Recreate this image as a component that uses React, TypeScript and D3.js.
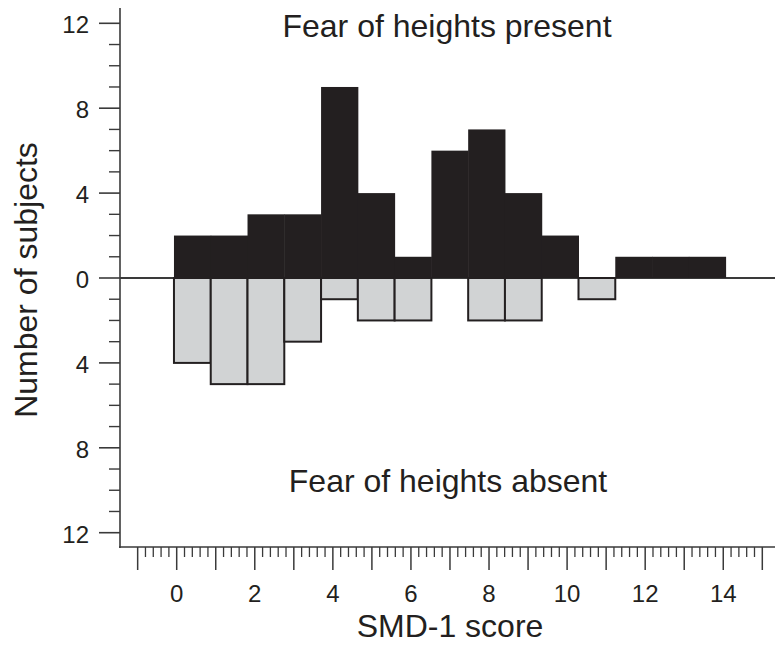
import React from "react";
import * as d3 from "d3";

const presentCounts = [2, 2, 3, 3, 9, 4, 1, 6, 7, 4, 2, 0, 1, 1, 1];
const absentCounts = [4, 5, 5, 3, 1, 2, 2, 0, 2, 2, 0, 1, 0, 0, 0];
const binStart = -0.07;
const binWidth = 0.942;
const xTickLabels = [0, 2, 4, 6, 8, 10, 12, 14];
const yTickLabels = [-12, -8, -4, 0, 4, 8, 12];
const titleTop = "Fear of heights present";
const titleBottom = "Fear of heights absent";
const xTitle = "SMD-1 score";
const yTitle = "Number of subjects";

const W = 775;
const H = 652;
const FONT = "'Liberation Sans', Arial, Helvetica, sans-serif";
const INK = "#231f20";
const AXIS = "#3a3a3a";
const GRAY = "#d1d3d4";

export default function App() {
  const x = d3.scaleLinear().domain([0, 15]).range([176.7, 762.3]);
  const y = d3.scaleLinear().domain([-12, 12]).range([532.7, 23.3]);
  const axisX = 120;
  const axisY = 547;

  const xMajor = d3.range(-1, 16, 1);
  const xMinor = d3.range(-1, 15.01, 0.2).filter((v) => Math.abs(v - Math.round(v)) > 1e-6);
  const yMinor = d3.range(-12, 13, 1).filter((v) => v % 4 !== 0);

  return (
    <svg
      width={W}
      height={H}
      viewBox={`0 0 ${W} ${H}`}
      style={{ position: "absolute", left: 0, top: 0, background: "#fff" }}
      fontFamily={FONT}
    >
      <rect x={0} y={0} width={W} height={H} fill="#fff" />

      {/* zero line */}
      <line x1={axisX} x2={775} y1={y(0)} y2={y(0)} stroke={AXIS} strokeWidth={2} />

      {/* present bars (black) */}
      {presentCounts.map((c, i) =>
        c > 0 ? (
          <rect
            key={"p" + i}
            x={x(binStart + i * binWidth)}
            width={x(binStart + (i + 1) * binWidth) - x(binStart + i * binWidth) + 0.5}
            y={y(c)}
            height={y(0) - y(c)}
            fill={INK}
          />
        ) : null
      )}

      {/* absent bars (gray, outlined) */}
      {absentCounts.map((c, i) =>
        c > 0 ? (
          <rect
            key={"a" + i}
            x={x(binStart + i * binWidth)}
            width={x(binStart + (i + 1) * binWidth) - x(binStart + i * binWidth)}
            y={y(0)}
            height={y(-c) - y(0)}
            fill={GRAY}
            stroke={INK}
            strokeWidth={2}
          />
        ) : null
      )}

      {/* y axis */}
      <line x1={axisX} x2={axisX} y1={8} y2={axisY + 1} stroke={AXIS} strokeWidth={1.6} />
      {yTickLabels.map((v) => (
        <g key={"ym" + v}>
          <line x1={axisX - 21} x2={axisX} y1={y(v)} y2={y(v)} stroke={AXIS} strokeWidth={1.6} />
          <text x={89} y={y(v) + 10} textAnchor="end" fontSize={24} fill={INK}>
            {Math.abs(v)}
          </text>
        </g>
      ))}
      {yMinor.map((v) => (
        <line key={"yn" + v} x1={axisX - 11} x2={axisX} y1={y(v)} y2={y(v)} stroke={AXIS} strokeWidth={1.4} />
      ))}

      {/* x axis */}
      <line x1={axisX - 1} x2={775} y1={axisY} y2={axisY} stroke={AXIS} strokeWidth={1.6} />
      {xMajor.map((v) => (
        <line key={"xm" + v} x1={x(v)} x2={x(v)} y1={axisY} y2={axisY + 23} stroke={AXIS} strokeWidth={1.5} />
      ))}
      {xMinor.map((v, i) => (
        <line key={"xn" + i} x1={x(v)} x2={x(v)} y1={axisY} y2={axisY + 10} stroke={AXIS} strokeWidth={1.3} />
      ))}
      {xTickLabels.map((v) => (
        <text key={"xl" + v} x={x(v)} y={602} textAnchor="middle" fontSize={24} fill={INK}>
          {v}
        </text>
      ))}

      {/* titles */}
      <text x={447} y={37} textAnchor="middle" fontSize={32} fill={INK}>
        {titleTop}
      </text>
      <text x={448} y={492} textAnchor="middle" fontSize={32} fill={INK}>
        {titleBottom}
      </text>
      <text x={450} y={637} textAnchor="middle" fontSize={32} fill={INK}>
        {xTitle}
      </text>
      <text
        transform={`translate(37,280) rotate(-90)`}
        textAnchor="middle"
        fontSize={32}
        fill={INK}
      >
        {yTitle}
      </text>
    </svg>
  );
}
